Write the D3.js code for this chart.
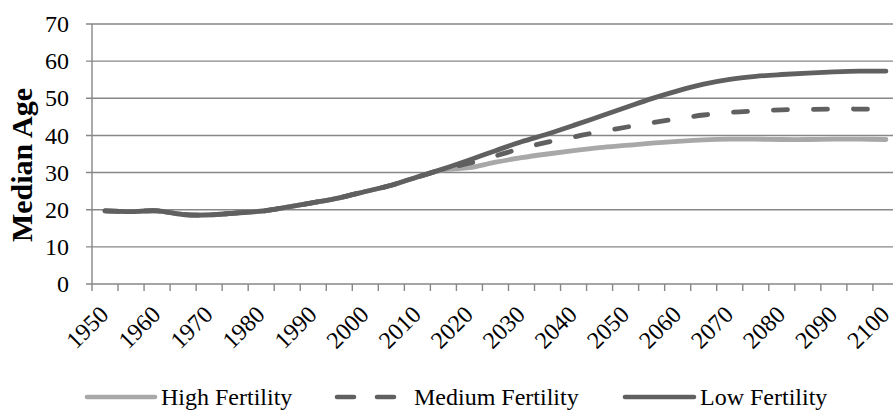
<!DOCTYPE html>
<html>
<head>
<meta charset="utf-8">
<script src="https://cdn.jsdelivr.net/npm/d3@7"></script>
<style>
  html, body { margin: 0; padding: 0; background: #fff; }
  svg { display: block; font-family: "Liberation Serif", "Times New Roman", serif; }
</style>
</head>
<body>
<svg id="chart" width="893" height="411"></svg>
<script>
// Projection years (every five years) and the labels shown on the axis
const years = d3.range(1950, 2101, 5);
const yearLabels = ["1950","1960","1970","1980","1990","2000","2010","2020","2030","2040","2050","2060","2070","2080","2090","2100"];
const ageTicks = [0, 10, 20, 30, 40, 50, 60, 70];

// Median age by fertility variant
const highFertility = [19.7, 19.5, 19.7, 18.7, 18.6, 19.1, 19.6, 20.7, 21.9, 23.2, 24.9, 26.6, 28.8, 30.7,
  31.3, 32.8, 34.0, 35.0, 35.9, 36.7, 37.3, 37.9, 38.4, 38.8, 39.0, 39.0, 38.9, 38.9, 39.0, 39.0, 38.9];
const mediumFertility = [19.7, 19.5, 19.7, 18.7, 18.6, 19.1, 19.6, 20.7, 21.9, 23.2, 24.9, 26.6, 28.8, 30.9,
  32.5, 34.5, 36.5, 38.2, 39.6, 41.0, 42.2, 43.4, 44.5, 45.5, 46.2, 46.6, 46.9, 47.0, 47.1, 47.1, 47.0];
const lowFertility = [19.7, 19.5, 19.7, 18.7, 18.6, 19.1, 19.6, 20.7, 21.9, 23.2, 24.9, 26.6, 28.8, 31.0,
  33.4, 35.9, 38.3, 40.4, 42.7, 45.1, 47.5, 49.9, 52.0, 53.8, 55.1, 55.9, 56.4, 56.8, 57.1, 57.3, 57.3];

const seriesNames = ["High Fertility", "Medium Fertility", "Low Fertility"];
const seriesValues = [highFertility, mediumFertility, lowFertility];

const svg = d3.select("#chart");
const plotLeft = 92, plotTop = 24, plotBottom = 284, step = 26.03;
const plotRight = plotLeft + step * years.length;

const x = d3.scaleBand().domain(years).range([plotLeft, plotRight]).padding(0);
const y = d3.scaleLinear().domain([0, 70]).range([plotBottom, plotTop]);

const gridColor = "#878787";
const styles = [
  { color: "#a8a8a8", dash: null },
  { color: "#606060", dash: "14,26" },
  { color: "#606060", dash: null }
];

// Horizontal gridlines with left tick marks
svg.append("g").selectAll("line").data(ageTicks).join("line")
  .attr("x1", plotLeft - 6).attr("x2", plotRight)
  .attr("y1", d => y(d)).attr("y2", d => y(d))
  .attr("stroke", gridColor).attr("stroke-width", 1.4);

// Vertical axis line
svg.append("line").attr("x1", plotLeft).attr("x2", plotLeft)
  .attr("y1", y(70)).attr("y2", y(0) + 7)
  .attr("stroke", gridColor).attr("stroke-width", 1.4);

// Category tick marks between the years
svg.append("g").selectAll("line").data(years).join("line")
  .attr("x1", d => x(d) + x.bandwidth())
  .attr("x2", d => x(d) + x.bandwidth())
  .attr("y1", y(0)).attr("y2", y(0) + 7)
  .attr("stroke", gridColor).attr("stroke-width", 1.4);

// Y tick labels
svg.append("g").selectAll("text").data(ageTicks).join("text")
  .attr("x", 69).attr("y", d => y(d)).attr("dy", "0.34em")
  .attr("text-anchor", "end").attr("font-size", 24).attr("fill", "#000")
  .text(d => d);

// Rotated year labels
svg.append("g").selectAll("text").data(yearLabels).join("text")
  .attr("transform", d => `translate(${x(+d) + x.bandwidth() / 2 + 5},316) rotate(-45)`)
  .attr("text-anchor", "end").attr("font-size", 24).attr("fill", "#000")
  .text(d => d);

// Axis title
svg.append("text")
  .attr("transform", "translate(32,165) rotate(-90)")
  .attr("text-anchor", "middle").attr("font-size", 30).attr("font-weight", "bold")
  .attr("fill", "#000")
  .text("Median Age");

// Series lines
const line = d3.line()
  .x((d, i) => x(years[i]) + x.bandwidth() / 2)
  .y(d => y(d))
  .curve(d3.curveCatmullRom.alpha(0.5));

svg.append("g").selectAll("path").data(seriesValues).join("path")
  .attr("d", d => line(d))
  .attr("fill", "none")
  .attr("stroke", (d, i) => styles[i].color)
  .attr("stroke-width", 4.8)
  .attr("stroke-linecap", "round")
  .attr("stroke-linejoin", "round")
  .attr("stroke-dasharray", (d, i) => styles[i].dash);

// Legend
const legendItems = [
  { x1: 87, x2: 155, tx: 161 },
  { x1: 337, x2: 398, tx: 414 },
  { x1: 625, x2: 694, tx: 700 }
];
const legend = svg.append("g");
legendItems.forEach((it, i) => {
  legend.append("line")
    .attr("x1", it.x1).attr("x2", it.x2).attr("y1", 397).attr("y2", 397)
    .attr("stroke", styles[i].color).attr("stroke-width", 4.6)
    .attr("stroke-linecap", "round")
    .attr("stroke-dasharray", styles[i].dash ? "17,23" : null);
  legend.append("text")
    .attr("x", it.tx).attr("y", 405).attr("font-size", 24).attr("fill", "#000")
    .text(seriesNames[i]);
});
</script>
</body>
</html>
